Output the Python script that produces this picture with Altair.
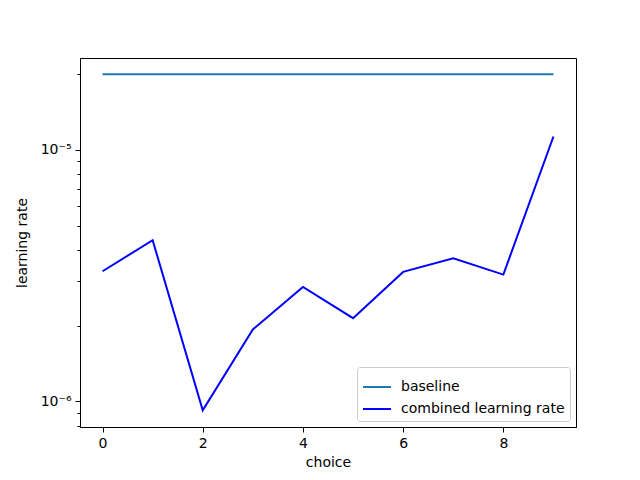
import altair as alt
import pandas as pd

choice = [0, 1, 2, 3, 4, 5, 6, 7, 8, 9]
baseline = [2.0e-5, 2.0e-5, 2.0e-5, 2.0e-5, 2.0e-5, 2.0e-5, 2.0e-5, 2.0e-5, 2.0e-5, 2.0e-5]
combined = [3.29e-6, 4.37e-6, 9.21e-7, 1.93e-6, 2.85e-6, 2.14e-6, 3.27e-6, 3.70e-6, 3.19e-6, 1.13e-5]
series_names = ["baseline", "combined learning rate"]
series_colors = ["#1f77b4", "#0000ff"]
x_ticks = [0, 2, 4, 6, 8]
y_ticks = [8e-7, 9e-7, 1e-6, 2e-6, 3e-6, 4e-6, 5e-6, 6e-6, 7e-6, 8e-6, 9e-6, 1e-5, 2e-5]

rows = []
for c, b in zip(choice, baseline):
    rows.append({"choice": c, "lr": b, "series": series_names[0]})
for c, v in zip(choice, combined):
    rows.append({"choice": c, "lr": v, "series": series_names[1]})
df = pd.DataFrame(rows)

chart = alt.Chart(df).mark_line(strokeWidth=2).encode(
    x=alt.X("choice:Q",
            scale=alt.Scale(domain=[-0.45, 9.45], nice=False, zero=False),
            axis=alt.Axis(values=x_ticks, title="choice", grid=False, tickSize=5,
                          labelPadding=4, titlePadding=5, format="d")),
    y=alt.Y("lr:Q",
            scale=alt.Scale(type="log", domain=[7.90e-7, 2.319e-5], nice=False),
            axis=alt.Axis(values=y_ticks, title="learning rate", grid=False,
                          labelExpr="datum.value == 1e-5 ? '10⁻⁵' : (datum.value == 1e-6 ? '10⁻⁶' : '')",
                          tickSize={"condition": {"test": "datum.value == 1e-5 || datum.value == 1e-6", "value": 5}, "value": 3},
                          labelPadding=4, titlePadding=11)),
    color=alt.Color("series:N",
                    scale=alt.Scale(domain=series_names, range=series_colors),
                    legend=alt.Legend(title=None, orient="bottom-right", offset=6,
                                      symbolType="stroke", symbolSize=784, symbolStrokeWidth=2,
                                      labelFontSize=14, labelFont="DejaVu Sans", labelLimit=400,
                                      labelOffset=9,
                                      padding=5, rowPadding=-9, cornerRadius=3,
                                      strokeColor="#cccccc", fillColor="rgba(255,255,255,0.8)")),
).properties(
    width=496, height=369,
    autosize=alt.AutoSizeParams(type="none"),
    padding={"left": 72, "top": 50, "right": 56, "bottom": 45},
).configure_view(
    stroke="black", strokeWidth=1
).configure_axis(
    labelFont="DejaVu Sans", labelFontSize=14, labelColor="black",
    titleFont="DejaVu Sans", titleFontSize=14, titleFontWeight="normal", titleColor="black",
    domainColor="black", tickColor="black", tickWidth=1, domainWidth=1
)

chart.save("out.html", embed_options={"renderer": "svg", "actions": False})
